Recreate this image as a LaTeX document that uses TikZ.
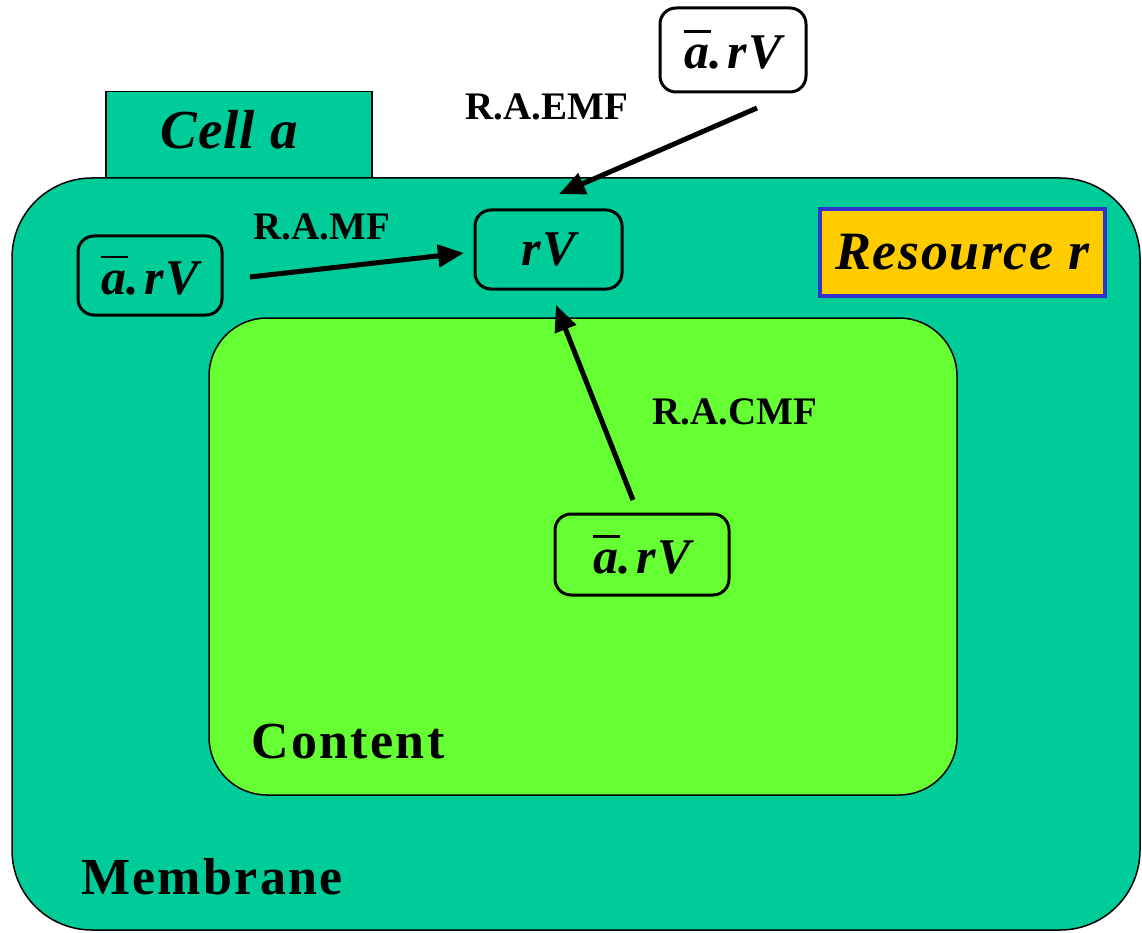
\documentclass[tikz,border=0pt]{standalone}
\usepackage{fontspec}
\setmainfont{Liberation Serif}
\usetikzlibrary{arrows.meta}

\definecolor{membranegreen}{HTML}{00CC99}
\definecolor{contentgreen}{HTML}{66FF33}
\definecolor{resyellow}{HTML}{FFCC00}
\definecolor{resblue}{HTML}{3333CC}

% a bold italic "a" with a bar over it
\newcommand{\abarsym}{{\setbox0\hbox{a}\rlap{\kern-0.02em\raisebox{0.72em}{\rule{1.08\wd0}{0.055em}}}\box0}}
\newcommand{\arv}{\abarsym.\kern0.1em r\kern0.03em V}

\tikzset{
  region/.style={draw=black, line width=1.5pt, inner sep=0pt},
  procbox/.style={draw=black, line width=3pt, rounded corners=16pt, inner sep=0pt,
    font=\fontsize{50}{52}\selectfont\bfseries\itshape},
  rulelabel/.style={font=\fontsize{39}{41}\selectfont\bfseries, inner sep=0pt},
  partlabel/.style={font=\fontsize{52}{54}\selectfont\bfseries\addfontfeature{LetterSpace=4.5}, inner sep=0pt},
  flow/.style={line width=5pt, -{Triangle[length=26pt,width=22pt]}},
}

\begin{document}
\begin{tikzpicture}[x=1pt,y=-1pt]
  \useasboundingbox (0,0) rectangle (1142,933);

  % tab with the cell name, partly under the membrane
  \node[region, fill=membranegreen, minimum width=266pt, minimum height=90pt,
        anchor=north west] (tab) at (105,91) {};
  \node[font=\fontsize{55}{57}\selectfont\bfseries\itshape\addfontfeature{LetterSpace=2}] (cellname) at (229,130) {Cell a};

  % membrane and content
  \node[region, fill=membranegreen, rounded corners=80pt,
        minimum width=1128pt, minimum height=752pt] (membrane) at (576,554) {};
  \node[region, fill=contentgreen, rounded corners=58pt,
        minimum width=748pt, minimum height=477pt] (content) at (583,556.5) {};

  % resource
  \node[draw=resblue, line width=3.5pt, fill=resyellow, minimum width=285pt,
        minimum height=87pt, inner sep=0pt,
        font=\fontsize{54}{56}\selectfont\bfseries\itshape\addfontfeature{LetterSpace=3}] (resource) at (962.5,252.5) {Resource r};

  % process boxes
  \node[procbox, fill=white, minimum width=146pt, minimum height=84pt] (ext) at (733,50) {\arv};
  \node[procbox, minimum width=144pt, minimum height=79pt] (mem) at (150,275.5) {\arv};
  \node[procbox, minimum width=147pt, minimum height=79pt] (rv) at (548.5,249.5) {r\kern0.03em V};
  \node[procbox, minimum width=174pt, minimum height=81pt] (cnt) at (642,554.5) {\arv};

  % arrow end points
  \coordinate (emfA) at (757,108);
  \coordinate (emfB) at (559,194);
  \coordinate (mfA) at (250,277);
  \coordinate (mfB) at (464,253);
  \coordinate (cmfA) at (633,500);
  \coordinate (cmfB) at (556,305);

  \draw[flow] (emfA) -- (emfB);
  \draw[flow] (mfA) -- (mfB);
  \draw[flow] (cmfA) -- (cmfB);

  % rule labels
  \node[rulelabel] (emf) at (547,107) {R.A.EMF};
  \node[rulelabel] (mf) at (322,227) {R.A.MF};
  \node[rulelabel] (cmf) at (735,412) {R.A.CMF};

  % region labels
  \node[partlabel] (contentname) at (348,742) {Content};
  \node[partlabel] (membranename) at (212,877) {Membrane};
\end{tikzpicture}
\end{document}
